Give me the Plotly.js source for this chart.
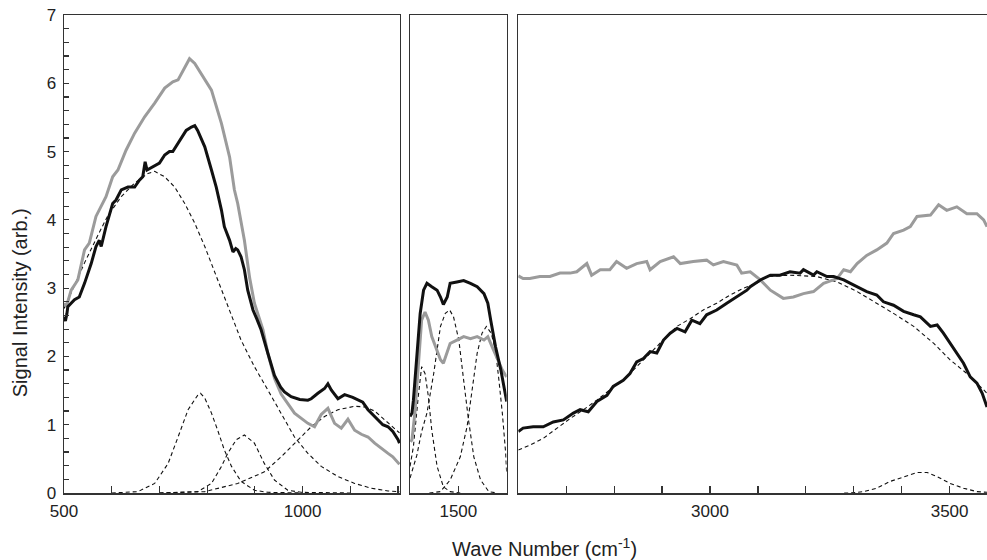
<!DOCTYPE html>
<html><head><meta charset="utf-8">
<script src="https://cdn.plot.ly/plotly-3.0.1.min.js"></script>
<style>html,body{margin:0;padding:0;background:#fff}#chart{width:987px;height:560px}</style>
</head><body><div id="chart"></div>
<script>
// ---------- Left panel (500 - 1200 cm-1) ----------
const leftGrayX = [500,505,515,529,543,553,567,578,588,602,613,630,648,669,690,711,728,739,753,763,774,791,809,830,847,857,864,878,889,899,917,927,941,955,969,983,1011,1025,1039,1053,1067,1081,1095,1109,1123,1137,1151,1165,1179,1189,1203];
const leftGrayY = [2.78,2.73,2.97,3.12,3.56,3.66,4.05,4.19,4.34,4.63,4.73,5.02,5.27,5.51,5.71,5.93,6.02,6.05,6.24,6.36,6.29,6.10,5.90,5.41,4.92,4.44,4.24,3.70,3.15,2.78,2.39,2.05,1.68,1.45,1.30,1.17,1.02,0.97,1.15,1.24,1.02,0.95,1.08,0.92,0.86,0.82,0.73,0.65,0.58,0.53,0.42];

const leftBlackX = [500,503,506,508,522,532,543,557,567,574,578,588,602,609,620,634,648,658,665,670,674,686,700,711,721,728,739,749,756,767,774,780,795,809,819,830,836,847,854,860,864,871,878,885,896,904,913,927,941,954,962,976,994,1011,1018,1032,1046,1053,1060,1074,1088,1105,1126,1137,1151,1168,1179,1189,1200,1203];
const leftBlackY = [2.58,2.52,2.62,2.73,2.83,2.87,3.07,3.36,3.61,3.70,3.61,3.90,4.24,4.29,4.44,4.48,4.48,4.58,4.63,4.85,4.73,4.78,4.83,4.95,5.00,5.00,5.12,5.22,5.31,5.36,5.38,5.31,5.07,4.73,4.48,4.14,3.90,3.70,3.53,3.58,3.56,3.46,3.27,2.97,2.68,2.55,2.39,2.05,1.72,1.55,1.48,1.41,1.37,1.36,1.38,1.46,1.53,1.60,1.51,1.38,1.44,1.40,1.33,1.22,1.12,1.00,0.97,0.90,0.78,0.73];

const leftFit1X = [500,543,570,591,620,648,676,690,711,732,753,774,795,816,836,851,871,899,927,955,983,1011,1039,1074,1109,1144,1179,1203];
const leftFit1Y = [2.70,3.37,3.76,4.05,4.34,4.54,4.68,4.71,4.63,4.48,4.24,3.95,3.61,3.22,2.87,2.60,2.24,1.85,1.51,1.17,0.82,0.58,0.39,0.24,0.14,0.07,0.03,0.02];

const leftFit2X = [600,655,690,718,739,760,780,786,795,809,822,836,851,871,899,927,1000];
const leftFit2Y = [0.00,0.02,0.14,0.43,0.82,1.22,1.43,1.46,1.39,1.17,0.92,0.63,0.39,0.17,0.04,0.01,0.00];

const leftFit3X = [700,780,809,830,843,861,878,899,920,941,969,997,1100];
const leftFit3Y = [0.00,0.02,0.14,0.39,0.58,0.78,0.85,0.73,0.43,0.19,0.04,0.01,0.00];

const leftFit4X = [700,795,864,920,955,983,1018,1046,1074,1109,1130,1151,1168,1182,1203];
const leftFit4Y = [0.00,0.02,0.14,0.31,0.53,0.73,0.97,1.12,1.22,1.27,1.26,1.20,1.10,1.01,0.88];

// ---------- Middle panel (1400 - 1600 cm-1) ----------
const midGrayX = [1401,1404,1410,1417,1424,1431,1438,1445,1456,1463,1469,1477,1483,1497,1511,1525,1539,1553,1561,1570,1581,1591,1600];
const midGrayY = [0.75,0.78,1.17,1.90,2.53,2.65,2.53,2.29,2.09,1.95,1.90,2.05,2.19,2.24,2.29,2.26,2.29,2.24,2.29,2.14,1.95,1.80,1.70];

const midBlackX = [1400,1404,1407,1414,1421,1428,1435,1445,1456,1463,1469,1477,1483,1497,1511,1525,1539,1553,1561,1567,1577,1588,1594,1600];
const midBlackY = [1.12,1.17,1.36,1.95,2.63,2.97,3.07,3.02,2.97,2.87,2.76,2.87,3.07,3.09,3.11,3.07,3.02,2.92,2.78,2.53,2.14,1.80,1.56,1.34];

const midFit1X = [1400,1407,1417,1424,1431,1438,1445,1456,1469,1483,1504];
const midFit1Y = [0.39,0.68,1.41,1.85,1.75,1.41,0.92,0.39,0.09,0.02,0.00];

const midFit2X = [1400,1414,1424,1435,1449,1463,1473,1482,1490,1501,1511,1521,1532,1546,1563,1580];
const midFit2Y = [0.22,0.55,0.90,1.17,1.75,2.44,2.63,2.68,2.58,2.24,1.65,1.07,0.53,0.19,0.02,0.00];

const midFit3X = [1440,1463,1483,1504,1518,1529,1539,1549,1558,1568,1577,1584,1591,1598,1600];
const midFit3Y = [0.00,0.02,0.19,0.53,0.97,1.56,2.05,2.34,2.44,2.34,2.09,1.65,1.17,0.58,0.29];

// ---------- Right panel (2600 - 3580 cm-1) ----------
const rightGrayX = [2600,2610,2624,2645,2666,2687,2708,2722,2743,2753,2771,2791,2805,2826,2847,2868,2875,2896,2924,2938,2965,2993,3007,3028,3056,3066,3084,3105,3126,3153,3174,3195,3216,3237,3265,3279,3293,3307,3327,3348,3369,3383,3404,3418,3432,3460,3477,3494,3515,3536,3557,3571,3578];
const rightGrayY = [3.18,3.14,3.14,3.17,3.17,3.22,3.22,3.24,3.36,3.19,3.27,3.27,3.39,3.29,3.36,3.39,3.27,3.39,3.46,3.36,3.39,3.41,3.34,3.39,3.34,3.22,3.24,3.12,2.97,2.85,2.87,2.92,2.95,3.07,3.14,3.27,3.24,3.36,3.48,3.56,3.66,3.80,3.85,3.90,4.05,4.07,4.22,4.14,4.19,4.09,4.09,4.00,3.90];

const rightBlackX = [2600,2610,2631,2652,2673,2694,2715,2729,2746,2764,2785,2798,2819,2833,2847,2861,2875,2889,2903,2917,2931,2948,2962,2979,2993,3014,3035,3056,3077,3084,3098,3105,3126,3146,3167,3188,3195,3216,3223,3244,3258,3279,3293,3313,3327,3348,3362,3383,3404,3425,3439,3460,3474,3487,3501,3515,3529,3543,3557,3568,3578];
const rightBlackY = [0.90,0.95,0.97,0.97,1.04,1.07,1.17,1.22,1.19,1.34,1.43,1.56,1.65,1.75,1.92,1.97,2.07,2.05,2.24,2.34,2.41,2.36,2.53,2.48,2.61,2.68,2.78,2.87,2.97,3.02,3.09,3.12,3.19,3.19,3.24,3.22,3.27,3.19,3.24,3.17,3.17,3.12,3.07,3.00,2.95,2.90,2.80,2.75,2.66,2.61,2.58,2.44,2.46,2.34,2.19,2.05,1.90,1.70,1.61,1.46,1.26];

const rightFit1X = [2600,2624,2652,2680,2708,2736,2764,2791,2819,2847,2875,2903,2931,2958,2986,3014,3042,3070,3098,3119,3167,3223,3265,3307,3348,3383,3425,3467,3501,3536,3571,3578];
const rightFit1Y = [0.63,0.70,0.80,0.95,1.09,1.22,1.36,1.51,1.65,1.85,2.05,2.24,2.44,2.55,2.68,2.78,2.90,3.00,3.07,3.17,3.19,3.17,3.09,2.95,2.78,2.63,2.44,2.19,1.95,1.75,1.51,1.46];

const rightFit2X = [3280,3293,3320,3348,3376,3404,3432,3453,3474,3501,3529,3557,3578];
const rightFit2Y = [0.00,0.00,0.02,0.07,0.17,0.24,0.30,0.30,0.24,0.14,0.07,0.02,0.01];

// ---------- styles ----------
const BLACK = '#111111', GRAY = '#9b9b9b';
const fitLine = {color:'#111', width:1.1, dash:'4px,3px'};
function tr(x, y, line, xa, ya){ return {x:x, y:y, type:'scatter', mode:'lines', line:line, xaxis:xa, yaxis:ya, hoverinfo:'skip'}; }

const traces = [
  tr(leftFit1X, leftFit1Y, fitLine, 'x', 'y'),
  tr(leftFit2X, leftFit2Y, fitLine, 'x', 'y'),
  tr(leftFit3X, leftFit3Y, fitLine, 'x', 'y'),
  tr(leftFit4X, leftFit4Y, fitLine, 'x', 'y'),
  tr(leftGrayX, leftGrayY, {color:GRAY, width:3}, 'x', 'y'),
  tr(leftBlackX, leftBlackY, {color:BLACK, width:3}, 'x', 'y'),

  tr(midFit1X, midFit1Y, fitLine, 'x2', 'y2'),
  tr(midFit2X, midFit2Y, fitLine, 'x2', 'y2'),
  tr(midFit3X, midFit3Y, fitLine, 'x2', 'y2'),
  tr(midGrayX, midGrayY, {color:GRAY, width:3}, 'x2', 'y2'),
  tr(midBlackX, midBlackY, {color:BLACK, width:3}, 'x2', 'y2'),

  tr(rightFit1X, rightFit1Y, fitLine, 'x3', 'y3'),
  tr(rightFit2X, rightFit2Y, fitLine, 'x3', 'y3'),
  tr(rightGrayX, rightGrayY, {color:GRAY, width:3}, 'x3', 'y3'),
  tr(rightBlackX, rightBlackY, {color:BLACK, width:3}, 'x3', 'y3')
];

const FONT = 'Liberation Sans, Arial, Helvetica, sans-serif';
const xCommon = {
  showline:true, linecolor:'#333', linewidth:1.5, mirror:true, showgrid:false, zeroline:false,
  ticks:'inside', ticklen:7, tickwidth:1.2, tickcolor:'#333',
  tickmode:'linear', tick0:0, dtick:500, ticklabelstandoff:2,
  tickfont:{family:FONT, size:17, color:'#222'},
  minor:{dtick:100, tick0:0, ticks:'inside', ticklen:7, tickwidth:1.2, tickcolor:'#333', showgrid:false}
};
const layout = {
  width:987, height:560,
  margin:{l:64, r:0, t:15, b:67},
  paper_bgcolor:'#fff', plot_bgcolor:'#fff', showlegend:false,
  font:{family:FONT, color:'#222'},
  xaxis: Object.assign({}, xCommon, {domain:[0, 0.3640], range:[500, 1204], anchor:'y'}),
  xaxis2: Object.assign({}, xCommon, {domain:[0.3749, 0.4796], range:[1400, 1600], anchor:'y2'}),
  xaxis3: Object.assign({}, xCommon, {domain:[0.4922, 1], range:[2600, 3578], anchor:'y3'}),
  yaxis: {domain:[0,1], range:[0,7], anchor:'x', showline:true, linecolor:'#333', linewidth:1.5, mirror:true,
    showgrid:false, zeroline:false, ticks:'inside', ticklen:5, tickwidth:1.2, tickcolor:'#333',
    tickmode:'linear', tick0:0, dtick:1, ticklabelstandoff:3,
    tickfont:{family:FONT, size:17, color:'#222'},
    minor:{dtick:0.2, tick0:0, ticks:'inside', ticklen:5, tickwidth:1.2, tickcolor:'#333', showgrid:false}},
  yaxis2: {domain:[0,1], range:[0,7], anchor:'x2', showline:true, linecolor:'#333', linewidth:1.5, mirror:true,
    showgrid:false, zeroline:false, ticks:'', showticklabels:false},
  yaxis3: {domain:[0,1], range:[0,7], anchor:'x3', showline:true, linecolor:'#333', linewidth:1.5, mirror:false,
    showgrid:false, zeroline:false, ticks:'', showticklabels:false},
  annotations:[
    {text:'Signal Intensity (arb.)', xref:'paper', yref:'paper', x:-0.0477, y:0.399, textangle:-90,
     showarrow:false, xanchor:'center', yanchor:'middle', font:{family:FONT, size:20, color:'#222'}},
    {text:'Wave Number (cm<sup>-1</sup>)', xref:'paper', yref:'paper', x:0.5211, y:-0.115,
     showarrow:false, xanchor:'center', yanchor:'middle', font:{family:FONT, size:20, color:'#222'}}
  ]
};
Plotly.newPlot('chart', traces, layout, {staticPlot:true, displayModeBar:false});
</script>
</body></html>
